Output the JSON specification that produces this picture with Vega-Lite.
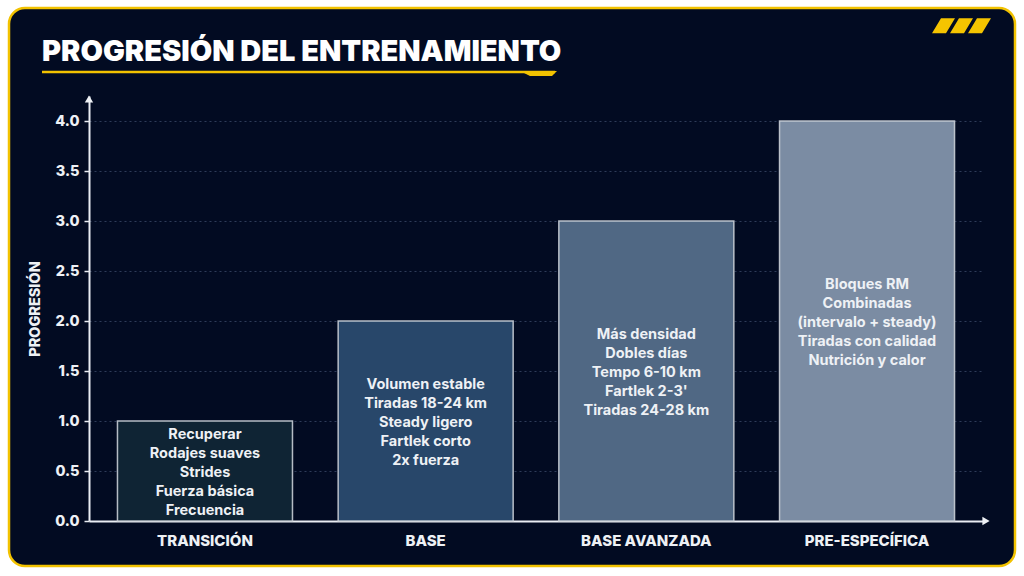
{
  "$schema": "https://vega.github.io/schema/vega-lite/v6.json",
  "width": 1006,
  "height": 558,
  "autosize": {"type": "none"},
  "padding": {"left": 9, "top": 8, "right": 9, "bottom": 10},
  "background": "#ffffff",
  "title": {
    "text": "PROGRESIÓN DEL ENTRENAMIENTO",
    "anchor": "start",
    "frame": "group",
    "orient": "top",
    "offset": -54,
    "dx": 33,
    "dy": 28,
    "baseline": "alphabetic",
    "font": "Inter",
    "fontSize": 29,
    "fontWeight": 900,
    "color": "#ffffff"
  },
  "data": {
    "values": [
      {"fase": "TRANSICIÓN", "progresion": 1, "contenido": "Recuperar\nRodajes suaves\nStrides\nFuerza básica\nFrecuencia"},
      {"fase": "BASE", "progresion": 2, "contenido": "Volumen estable\nTiradas 18-24 km\nSteady ligero\nFartlek corto\n2x fuerza"},
      {"fase": "BASE AVANZADA", "progresion": 3, "contenido": "Más densidad\nDobles días\nTempo 6-10 km\nFartlek 2-3'\nTiradas 24-28 km"},
      {"fase": "PRE-ESPECÍFICA", "progresion": 4, "contenido": "Bloques RM\nCombinadas\n(intervalo + steady)\nTiradas con calidad\nNutrición y calor"}
    ]
  },
  "layer": [
    {
      "mark": {"type": "bar", "stroke": "#c9ced6", "strokeWidth": 1.5, "strokeOpacity": 0.9},
      "encoding": {
        "x": {
          "field": "fase",
          "type": "nominal",
          "sort": null,
          "scale": {"range": [80, 974], "paddingInner": 0.207, "paddingOuter": 0.129},
          "axis": {
            "title": null,
            "orient": "bottom",
            "offset": -45,
            "labelAngle": 0,
            "labelPadding": 12,
            "ticks": false,
            "domainColor": "#e9edf3",
            "domainWidth": 2,
            "labelFontSize": 15,
            "labelFontWeight": 800
          }
        },
        "y": {
          "field": "progresion",
          "type": "quantitative",
          "scale": {"domain": [0, 4.25], "range": [513, 88], "nice": false, "zero": true},
          "axis": {
            "title": "PROGRESIÓN",
            "orient": "left",
            "offset": -80,
            "values": [0, 0.5, 1, 1.5, 2, 2.5, 3, 3.5, 4],
            "format": ".1f",
            "grid": true,
            "gridColor": "#2e3c58",
            "gridDash": [2, 3],
            "gridWidth": 1,
            "domainColor": "#e9edf3",
            "domainWidth": 2,
            "tickColor": "#e9edf3",
            "tickSize": 5,
            "tickWidth": 1.5,
            "labelPadding": 5,
            "labelFontSize": 14.5,
            "labelFontWeight": 800,
            "titleFontSize": 14.5,
            "titleFontWeight": 800,
            "titlePadding": 12
          }
        },
        "color": {
          "field": "fase",
          "type": "nominal",
          "sort": null,
          "scale": {
            "domain": ["TRANSICIÓN", "BASE", "BASE AVANZADA", "PRE-ESPECÍFICA"],
            "range": ["#0f2434", "#28476a", "#506884", "#7b8ca3"]
          },
          "legend": null
        }
      }
    },
    {
      "transform": [{"calculate": "datum.progresion / 2", "as": "centro"}],
      "mark": {
        "type": "text",
        "lineBreak": "\n",
        "lineHeight": 19,
        "dy": -36,
        "align": "center",
        "baseline": "middle",
        "font": "Inter",
        "fontSize": 14.5,
        "fontWeight": 700,
        "color": "#eef1f5"
      },
      "encoding": {
        "x": {"field": "fase", "type": "nominal", "sort": null},
        "y": {"field": "centro", "type": "quantitative"},
        "text": {"field": "contenido"}
      }
    },
    {
      "data": {"values": [{}]},
      "mark": {"type": "point", "shape": "triangle-up", "filled": true, "size": 70, "color": "#eef1f5", "opacity": 1},
      "encoding": {"x": {"value": 80}, "y": {"datum": 4.22}}
    },
    {
      "data": {"values": [{}]},
      "mark": {"type": "point", "shape": "triangle-right", "filled": true, "size": 70, "color": "#eef1f5", "opacity": 1},
      "encoding": {"x": {"value": 977}, "y": {"datum": 0}}
    },
    {
      "data": {"values": [{}]},
      "mark": {"type": "rule", "color": "#f2c200", "strokeWidth": 2.5},
      "encoding": {"x": {"value": 33}, "x2": {"value": 546}, "y": {"value": 64}, "y2": {"value": 64}}
    },
    {
      "data": {"values": [{}]},
      "mark": {
        "type": "point",
        "filled": true,
        "size": 4,
        "opacity": 1,
        "color": "#f2c200",
        "shape": "M-18.5,-2.5L18.5,-2.5L13.5,2.5L-8.5,2.5L-14.5,-0.5Z"
      },
      "encoding": {"x": {"value": 529.5}, "y": {"value": 65.5}}
    },
    {
      "data": {"values": [{}]},
      "mark": {
        "type": "point",
        "filled": true,
        "size": 4,
        "opacity": 1,
        "color": "#f5c400",
        "shape": "M-29.5,7.5L-20.5,-7.5L-6.5,-7.5L-15.5,7.5ZM-11.5,7.5L-2.5,-7.5L11.5,-7.5L2.5,7.5ZM6.5,7.5L15.5,-7.5L29.5,-7.5L20.5,7.5Z"
      },
      "encoding": {"x": {"value": 952.5}, "y": {"value": 17.75}}
    }
  ],
  "config": {
    "font": "Inter",
    "view": {"fill": "#020b22", "stroke": "#f2c200", "strokeWidth": 2.5, "cornerRadius": 16},
    "axis": {
      "labelColor": "#eef1f5",
      "titleColor": "#eef1f5",
      "labelFont": "Inter",
      "titleFont": "Inter"
    }
  }
}
